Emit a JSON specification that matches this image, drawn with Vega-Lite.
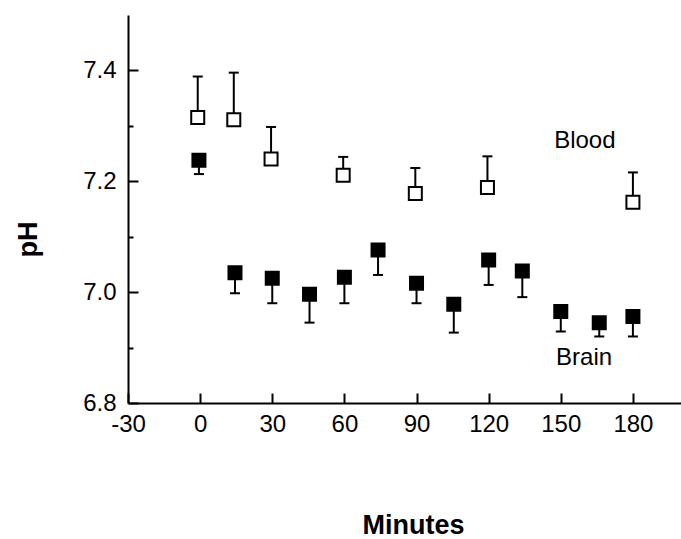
{
  "$schema": "https://vega.github.io/schema/vega-lite/v6.json",
  "autosize": {"type": "none"},
  "padding": {"left": 128, "top": 15, "right": 0, "bottom": 136},
  "width": 553,
  "height": 388,
  "background": "white",
  "config": {
    "view": {"stroke": null},
    "font": "Liberation Sans",
    "axis": {
      "grid": false,
      "domainColor": "black",
      "domainWidth": 2,
      "tickColor": "black",
      "tickWidth": 2,
      "labelFont": "Liberation Sans",
      "labelFontSize": 24,
      "labelColor": "black",
      "titleFont": "Liberation Sans",
      "titleFontWeight": "bold",
      "titleFontSize": 27,
      "titleColor": "black"
    }
  },
  "datasets": {
    "pts": [
      {"series": "Blood", "t": -1, "pH": 7.315, "bar": 7.389},
      {"series": "Blood", "t": 14, "pH": 7.311, "bar": 7.396},
      {"series": "Blood", "t": 29.5, "pH": 7.24, "bar": 7.298},
      {"series": "Blood", "t": 59.5, "pH": 7.211, "bar": 7.244},
      {"series": "Blood", "t": 89.5, "pH": 7.178, "bar": 7.224},
      {"series": "Blood", "t": 119.5, "pH": 7.189, "bar": 7.245},
      {"series": "Blood", "t": 180, "pH": 7.162, "bar": 7.216},
      {"series": "Brain", "t": -0.5, "pH": 7.238, "bar": 7.213},
      {"series": "Brain", "t": 14.5, "pH": 7.035, "bar": 6.998},
      {"series": "Brain", "t": 30, "pH": 7.025, "bar": 6.98},
      {"series": "Brain", "t": 45.5, "pH": 6.996, "bar": 6.945},
      {"series": "Brain", "t": 60, "pH": 7.027, "bar": 6.98},
      {"series": "Brain", "t": 74, "pH": 7.076, "bar": 7.031},
      {"series": "Brain", "t": 90, "pH": 7.016, "bar": 6.98},
      {"series": "Brain", "t": 105.5, "pH": 6.978, "bar": 6.927},
      {"series": "Brain", "t": 120, "pH": 7.058, "bar": 7.013},
      {"series": "Brain", "t": 134, "pH": 7.038, "bar": 6.991},
      {"series": "Brain", "t": 150, "pH": 6.965, "bar": 6.929},
      {"series": "Brain", "t": 166, "pH": 6.945, "bar": 6.92},
      {"series": "Brain", "t": 180, "pH": 6.956, "bar": 6.92}
    ],
    "labels": [
      {"label": "Blood", "t": 160, "pH": 7.273},
      {"label": "Brain", "t": 159.7, "pH": 6.881}
    ]
  },
  "layer": [
    {
      "data": {"name": "pts"},
      "mark": {"type": "rule", "color": "black", "strokeWidth": 2},
      "encoding": {
        "x": {
          "field": "t", "type": "quantitative",
          "scale": {"domain": [-30, 200], "nice": false, "zero": false},
          "axis": {
            "title": "Minutes",
            "values": [-30, -15, 0, 15, 30, 45, 60, 75, 90, 105, 120, 135, 150, 165, 180, 195],
            "labelExpr": "datum.value % 30 === 0 ? '' + datum.value : ''",
            "tickSize": {"condition": {"test": "datum.value % 30 === 0", "value": -10}, "value": -5},
            "labelPadding": 19,
            "labelDx": 5,
            "labelFlush": false,
            "labelOverlap": false,
            "titleX": 285,
            "titleY": 122,
            "titleAlign": "center",
            "titleBaseline": "middle"
          }
        },
        "y": {
          "field": "pH", "type": "quantitative",
          "scale": {"domain": [6.8, 7.5], "nice": false, "zero": false},
          "axis": {
            "title": "pH",
            "values": [6.8, 6.9, 7.0, 7.1, 7.2, 7.3, 7.4],
            "labelExpr": "round(datum.value * 10) % 2 === 0 ? format(datum.value, '.1f') : ''",
            "tickSize": {"condition": {"test": "round(datum.value * 10) % 2 === 0", "value": -10}, "value": -5},
            "labelPadding": 22,
            "labelFlush": false,
            "labelOverlap": false,
            "titleX": -100,
            "titleY": 224,
            "titleAlign": "center",
            "titleBaseline": "middle"
          }
        },
        "y2": {"field": "bar"}
      }
    },
    {
      "data": {"name": "pts"},
      "mark": {"type": "tick", "orient": "horizontal", "size": 10, "thickness": 2, "color": "black", "opacity": 1},
      "encoding": {
        "x": {"field": "t", "type": "quantitative"},
        "y": {"field": "bar", "type": "quantitative"}
      }
    },
    {
      "data": {"name": "pts"},
      "mark": {"type": "square", "filled": true, "stroke": "black", "strokeWidth": 2, "size": 169, "opacity": 1},
      "encoding": {
        "x": {"field": "t", "type": "quantitative"},
        "y": {"field": "pH", "type": "quantitative"},
        "fill": {
          "field": "series", "type": "nominal",
          "scale": {"domain": ["Blood", "Brain"], "range": ["white", "black"]},
          "legend": null
        }
      }
    },
    {
      "data": {"name": "labels"},
      "mark": {"type": "text", "font": "Liberation Sans", "fontSize": 24, "color": "black", "align": "center", "baseline": "middle"},
      "encoding": {
        "x": {"field": "t", "type": "quantitative"},
        "y": {"field": "pH", "type": "quantitative"},
        "text": {"field": "label"}
      }
    }
  ]
}
